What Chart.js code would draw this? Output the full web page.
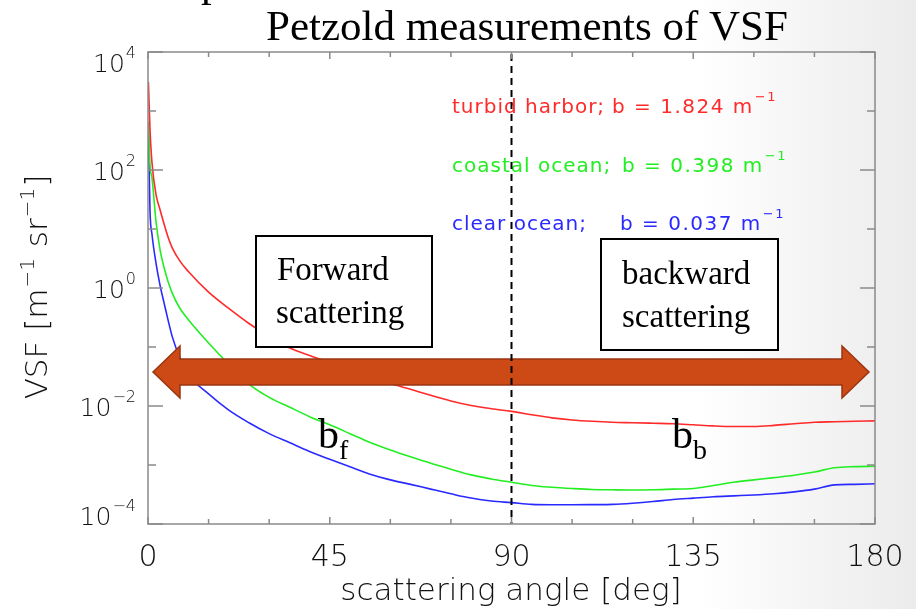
<!DOCTYPE html>
<html>
<head>
<meta charset="utf-8">
<title>Petzold measurements of VSF</title>
<script src="https://cdn.jsdelivr.net/npm/chart.js@4.4.0/dist/chart.umd.min.js"></script>
<style>
  html, body { margin: 0; padding: 0; background: #fff; }
  #chart { display: block; }
</style>
</head>
<body>
<canvas id="chart" width="916" height="609"></canvas>
<script>
// Petzold volume scattering functions, m^-1 sr^-1
const angles = [0.1, 0.5, 1, 2, 3, 4, 5, 6, 8, 10, 15, 20, 25, 30, 35, 40, 45, 50, 55, 60,
  65, 70, 75, 80, 85, 90, 95, 100, 105, 110, 115, 120, 125, 130, 135, 140, 145, 150,
  155, 160, 165, 170, 175, 180];

const turbidHarbor = [3100, 480, 130, 38, 21, 12, 7.2, 4.8, 2.8, 1.9, 0.85, 0.45, 0.25,
  0.15, 0.097, 0.072, 0.055, 0.042, 0.031, 0.024, 0.0192, 0.0152, 0.0122, 0.0102, 0.009,
  0.0081, 0.0071, 0.0063, 0.0058, 0.0055, 0.0053, 0.0052, 0.0051, 0.005, 0.0048, 0.0046,
  0.0045, 0.0045, 0.0047, 0.005, 0.0053, 0.0054, 0.0055, 0.0056];

const coastalOcean = [660, 120, 73, 13, 4.4, 2.2, 1.26, 0.82, 0.44, 0.29, 0.117, 0.051,
  0.0235, 0.014, 0.0096, 0.0066, 0.0048, 0.0034, 0.0024, 0.0018, 0.00138, 0.00107, 8.5e-4,
  6.8e-4, 5.8e-4, 5.1e-4, 4.5e-4, 4.2e-4, 4.0e-4, 3.85e-4, 3.8e-4, 3.77e-4, 3.8e-4, 3.9e-4,
  4.0e-4, 4.5e-4, 5.1e-4, 5.6e-4, 6.1e-4, 6.7e-4, 7.6e-4, 9.0e-4, 9.4e-4, 9.5e-4];

const clearOcean = [500, 20, 8, 2.6, 1.1, 0.55, 0.28, 0.15, 0.063, 0.034, 0.016, 0.0085,
  0.0052, 0.0034, 0.0024, 0.0017, 0.00125, 9.3e-4, 7.0e-4, 5.6e-4, 4.7e-4, 3.9e-4, 3.25e-4,
  2.75e-4, 2.45e-4, 2.3e-4, 2.15e-4, 2.12e-4, 2.12e-4, 2.13e-4, 2.15e-4, 2.25e-4, 2.4e-4,
  2.6e-4, 2.75e-4, 2.9e-4, 3.0e-4, 3.1e-4, 3.25e-4, 3.5e-4, 3.9e-4, 4.6e-4, 4.7e-4, 4.8e-4];

const seriesNames = ["turbid harbor;", "coastal ocean;", "clear ocean;"];
const seriesB = ["1.824", "0.398", "0.037"];
const seriesColors = ["#ff2a2a", "#22ee22", "#2a2aff"];

const xTickLabels = [0, 45, 90, 135, 180];
const xMinorStep = 15;
const yDecades = [4, 3, 2, 1, 0, -1, -2, -3, -4];
const yLabelPowers = [4, 2, 0, -2, -4];
const splitAngle = 90;

const SANS = '"DejaVu Sans", sans-serif';
const SERIF = '"Liberation Serif", "DejaVu Serif", serif';
const AXIS_GRAY = "#8a8a8a";
const TEXT_DARK = "#111";

function toPoints(ys) {
  return angles.map((a, i) => ({ x: a, y: ys[i] }));
}

// text followed by a raised exponent, returns end x
function withSup(ctx, base, sup, x, y, size, supSize, rise, weight) {
  const w8 = weight || 300;
  ctx.font = `${w8} ${size}px ${SANS}`;
  ctx.fillText(base, x, y);
  const w = ctx.measureText(base).width;
  ctx.font = `${w8} ${supSize}px ${SANS}`;
  ctx.fillText(sup, x + w + 1, y - rise);
  return x + w + 1 + ctx.measureText(sup).width;
}

function drawArrow(ctx, x0, x1, yc) {
  const head = 27, halfShaft = 13, halfHead = 26;
  ctx.beginPath();
  ctx.moveTo(x0, yc);
  ctx.lineTo(x0 + head, yc - halfHead);
  ctx.lineTo(x0 + head, yc - halfShaft);
  ctx.lineTo(x1 - head, yc - halfShaft);
  ctx.lineTo(x1 - head, yc - halfHead);
  ctx.lineTo(x1, yc);
  ctx.lineTo(x1 - head, yc + halfHead);
  ctx.lineTo(x1 - head, yc + halfShaft);
  ctx.lineTo(x0 + head, yc + halfShaft);
  ctx.lineTo(x0 + head, yc + halfHead);
  ctx.closePath();
  ctx.fillStyle = "#cd4a17";
  ctx.fill();
  ctx.lineWidth = 1.5;
  ctx.strokeStyle = "#9a3510";
  ctx.stroke();
}

function labelBox(ctx, x, y, w, h, lines) {
  ctx.fillStyle = "#fff";
  ctx.fillRect(x, y, w, h);
  ctx.lineWidth = 2;
  ctx.strokeStyle = "#000";
  ctx.strokeRect(x, y, w, h);
  ctx.fillStyle = "#000";
  ctx.font = `33px ${SERIF}`;
  ctx.textAlign = "left";
  ctx.textBaseline = "alphabetic";
  lines.forEach(l => ctx.fillText(l.text, l.x, l.y));
}

function subscripted(ctx, main, sub, x, y) {
  ctx.fillStyle = "#000";
  ctx.font = `42px ${SERIF}`;
  ctx.fillText(main, x, y);
  const w = ctx.measureText(main).width;
  ctx.font = `28px ${SERIF}`;
  ctx.fillText(sub, x + w, y + 11);
}

const backdrop = {
  id: "backdrop",
  beforeDraw(chart) {
    const ctx = chart.ctx;
    const g = ctx.createLinearGradient(0, 0, chart.width, 0);
    g.addColorStop(0, "#ffffff");
    g.addColorStop(0.76, "#ffffff");
    g.addColorStop(1, "#ebebeb");
    ctx.save();
    ctx.fillStyle = g;
    ctx.fillRect(0, 0, chart.width, chart.height);
    ctx.restore();
  }
};

const decorations = {
  id: "decorations",
  afterDatasetsDraw(chart) {
    const ctx = chart.ctx;
    const area = chart.chartArea;
    const xs = chart.scales.x;
    const ys = chart.scales.y;
    ctx.save();

    // legend text
    const rowBase = [113, 172, 230];
    const valueX = [612, 622, 620];
    seriesNames.forEach((name, i) => {
      ctx.fillStyle = seriesColors[i];
      ctx.font = `20px ${SANS}`;
      ctx.textAlign = "left";
      ctx.letterSpacing = "1px";
      ctx.fillText(name, 452, rowBase[i]);
      ctx.letterSpacing = "1.5px";
      withSup(ctx, "b = " + seriesB[i] + " m", "\u22121", valueX[i], rowBase[i], 20, 13, 12, 400);
      ctx.letterSpacing = "0px";
    });

    // forward / backward double arrow and boxes
    drawArrow(ctx, 153, 869, 372);
    labelBox(ctx, 256, 236, 176, 111, [
      { text: "Forward", x: 277, y: 280 },
      { text: "scattering", x: 276, y: 323 }
    ]);
    labelBox(ctx, 601, 239, 177, 111, [
      { text: "backward", x: 622, y: 284 },
      { text: "scattering", x: 622, y: 327 }
    ]);
    subscripted(ctx, "b", "f", 318, 448);
    subscripted(ctx, "b", "b", 672, 448);

    // 90 degree divider
    const xs90 = xs.getPixelForValue(splitAngle);
    ctx.beginPath();
    ctx.setLineDash([7, 5]);
    ctx.lineWidth = 2;
    ctx.strokeStyle = "#000";
    ctx.moveTo(xs90, area.top + 2);
    ctx.lineTo(xs90, area.bottom);
    ctx.stroke();
    ctx.setLineDash([]);

    // axis box with inward ticks
    ctx.strokeStyle = AXIS_GRAY;
    ctx.lineWidth = 1.5;
    ctx.strokeRect(area.left, area.top, area.right - area.left, area.bottom - area.top);
    ctx.beginPath();
    for (let a = 0; a <= 180; a += xMinorStep) {
      const px = xs.getPixelForValue(a);
      const len = a % 45 === 0 ? 7 : 5;
      ctx.moveTo(px, area.bottom); ctx.lineTo(px, area.bottom - len);
      ctx.moveTo(px, area.top); ctx.lineTo(px, area.top + len);
    }
    yDecades.forEach(p => {
      const py = ys.getPixelForValue(Math.pow(10, p));
      const len = p % 2 === 0 ? 15 : 8;
      ctx.moveTo(area.left, py); ctx.lineTo(area.left + len, py);
      ctx.moveTo(area.right, py); ctx.lineTo(area.right - len, py);
    });
    ctx.stroke();

    // tick labels
    ctx.fillStyle = TEXT_DARK;
    ctx.textAlign = "left";
    yLabelPowers.forEach(p => {
      const py = ys.getPixelForValue(Math.pow(10, p));
      let base = py + 10;
      if (base - 18 < area.top) base = area.top + 20;
      if (base > area.bottom) base = area.bottom + 1;
      const sup = p < 0 ? "\u2212" + (-p) : String(p);
      ctx.font = `300 16px ${SANS}`;
      const sw = ctx.measureText(sup).width;
      ctx.font = `300 25px ${SANS}`;
      const bw = ctx.measureText("10").width;
      const x0 = 137 - sw - 2 - bw;
      withSup(ctx, "10", sup, x0, base, 25, 16, 14);
    });
    ctx.textAlign = "center";
    ctx.font = `300 30px ${SANS}`;
    xTickLabels.forEach(v => {
      ctx.fillText(String(v), xs.getPixelForValue(v), 566);
    });

    // axis titles
    ctx.font = `300 31px ${SANS}`;
    ctx.fillText("scattering angle [deg]", 511, 600);

    ctx.textAlign = "left";
    const parts = [
      { t: "VSF [m", s: 31, r: 0 },
      { t: "\u22121", s: 20, r: 13 },
      { t: " sr", s: 31, r: 0 },
      { t: "\u22121", s: 20, r: 13 },
      { t: "]", s: 31, r: 0 }
    ];
    let total = 0;
    parts.forEach(p => {
      ctx.font = `300 ${p.s}px ${SANS}`;
      p.w = ctx.measureText(p.t).width + (p.r ? 2 : 0);
      total += p.w;
    });
    ctx.save();
    ctx.translate(47, 287);
    ctx.rotate(-Math.PI / 2);
    let cx = -total / 2;
    parts.forEach(p => {
      ctx.font = `300 ${p.s}px ${SANS}`;
      ctx.fillText(p.t, cx + (p.r ? 1 : 0), -p.r);
      cx += p.w;
    });
    ctx.restore();

    // heading
    ctx.fillStyle = "#000";
    ctx.textAlign = "center";
    ctx.font = `43px ${SERIF}`;
    ctx.fillText("Petzold measurements of VSF", 527, 40);
    ctx.textAlign = "left";
    ctx.fillText("p", 201, -4);

    ctx.restore();
  }
};

const chart = document.querySelector("#chart").getContext("2d");

new Chart(chart, {
  type: "line",
  data: {
    datasets: [
      { label: "turbid harbor", data: toPoints(turbidHarbor), borderColor: seriesColors[0] },
      { label: "coastal ocean", data: toPoints(coastalOcean), borderColor: seriesColors[1] },
      { label: "clear ocean", data: toPoints(clearOcean), borderColor: seriesColors[2] }
    ]
  },
  options: {
    responsive: false,
    animation: false,
    devicePixelRatio: 1,
    layout: { padding: { top: 52, right: 41, left: 0, bottom: 0 } },
    elements: {
      point: { radius: 0 },
      line: { borderWidth: 1.6, cubicInterpolationMode: "monotone", fill: false }
    },
    plugins: {
      legend: { display: false },
      tooltip: { enabled: false },
      title: { display: false }
    },
    scales: {
      x: {
        type: "linear",
        min: 0,
        max: 180,
        grid: { display: false },
        border: { display: false },
        ticks: { display: false },
        afterFit(scale) { scale.height = 85; }
      },
      y: {
        type: "logarithmic",
        min: 1e-4,
        max: 1e4,
        grid: { display: false },
        border: { display: false },
        ticks: { display: false },
        afterFit(scale) { scale.width = 148; }
      }
    }
  },
  plugins: [backdrop, decorations]
});
</script>
</body>
</html>
